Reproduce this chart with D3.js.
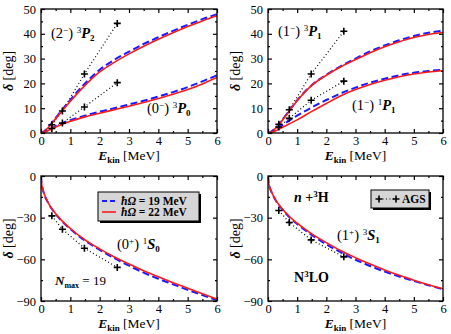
<!DOCTYPE html>
<html><head><meta charset="utf-8">
<script src="https://cdn.jsdelivr.net/npm/d3@7"></script>
<style>body{margin:0;background:#fff}svg{display:block}svg text{font-family:"Liberation Serif","Times New Roman","DejaVu Serif",serif}</style>
</head><body><svg id="c" width="451" height="334"></svg>
<script>
// ---- data ----
const energies = [0,0.02,0.05,0.1,0.25,0.5,0.75,1,1.5,2,2.5,3,3.5,4,4.5,5,5.5,6];
const p2_19 = [0,0.05,0.2,0.6,2.4,6.1,9.8,13.4,20.0,25.5,29.5,32.8,35.9,38.6,41.2,43.6,45.9,47.9];
const p2_22 = [0,0.05,0.2,0.6,2.2,5.8,9.3,12.8,19.2,24.6,28.5,31.9,35.0,37.8,40.4,42.9,45.2,47.3];
const p0_19 = [0,0.02,0.1,0.3,1.2,2.8,4.1,5.2,7.0,8.6,10.0,11.5,13.0,14.7,16.5,18.5,20.8,23.3];
const p0_22 = [0,0.02,0.1,0.3,1.0,2.4,3.6,4.7,6.5,8.0,9.4,10.8,12.3,13.9,15.6,17.5,19.8,22.4];
const p31_19 = [0,0.04,0.15,0.5,1.9,5.4,9.4,13.2,19.3,23.5,27.0,30.0,32.9,35.3,37.4,39.1,40.4,41.2];
const p31_22 = [0,0.04,0.15,0.5,1.8,5.2,9.2,13.0,19.2,23.3,26.7,29.6,32.4,34.8,36.8,38.5,39.7,40.5];
const p11_19 = [0,0.02,0.08,0.3,1.3,3.3,5.2,7.0,10.3,13.3,16.0,18.3,20.3,21.9,23.3,24.3,25.0,25.5];
const p11_22 = [0,0.01,0.05,0.2,0.8,2.3,3.8,5.3,8.7,11.9,15.0,17.5,19.6,21.3,22.7,23.8,24.6,25.1];
const s0_19 = [0,-5.5,-8.8,-12.5,-19.6,-27.4,-33.3,-38.2,-46.5,-53.2,-59.2,-64.6,-69.6,-74.0,-78.0,-82.0,-85.8,-89.4];
const s0_22 = [0,-5.5,-8.8,-12.5,-19.5,-27.2,-33.0,-37.8,-46.0,-52.5,-58.3,-63.4,-68.2,-72.6,-76.8,-80.8,-84.8,-88.6];
const s1_19 = [0,-4.5,-7.5,-10.5,-17.0,-24.3,-30.0,-34.6,-42.5,-49.2,-55.0,-60.3,-64.8,-68.8,-72.4,-75.5,-78.6,-81.5];
const s1_22 = [0,-4.5,-7.5,-10.5,-16.8,-24.0,-29.5,-34.0,-41.7,-48.0,-53.8,-58.8,-63.4,-67.6,-71.5,-75.0,-78.3,-81.2];
const agsE = [0.37,0.73,1.48,2.6];
const ags_p2 = [3.3,8.9,23.8,44.2];
const ags_p0 = [1.8,4.0,10.5,20.3];
const ags_p31 = [3.5,9.4,23.8,41.0];
const ags_p11 = [2.4,5.9,13.2,20.9];
const ags_s0 = [-28.7,-38.3,-52.0,-65.8];
const ags_s1 = [-24.8,-33.5,-46.0,-58.2];
const xTicks = [0,1,2,3,4,5,6];
const yTicksTop = [0,10,20,30,40,50];
const yTicksBot = [0,-30,-60,-90];
const legendLabels = ["ħΩ = 19 MeV","ħΩ = 22 MeV"];

// ---- drawing ----
const FONT = "'Liberation Serif','Times New Roman','DejaVu Serif',serif";
const svg = d3.select("#c").attr("font-family",FONT);
const panels = [
  {x0:41,x1:217,y0:9,y1:133,ydom:[0,50],yt:yTicksTop,ym:5,
   series:[[p2_19,p2_22,ags_p2],[p0_19,p0_22,ags_p0]]},
  {x0:268,x1:443,y0:9,y1:133,ydom:[0,50],yt:yTicksTop,ym:5,
   series:[[p31_19,p31_22,ags_p31],[p11_19,p11_22,ags_p11]]},
  {x0:41,x1:217,y0:176,y1:301,ydom:[-90,0],yt:yTicksBot,ym:15,
   series:[[s0_19,s0_22,ags_s0]]},
  {x0:268,x1:443,y0:176,y1:301,ydom:[-90,0],yt:yTicksBot,ym:15,
   series:[[s1_19,s1_22,ags_s1]]}
];

function plus(g, x, y){
  g.append("path").attr("d",`M${x-3.5},${y}H${x+3.5}M${x},${y-3.5}V${y+3.5}`)
    .attr("stroke","#000").attr("stroke-width",1.6);
}
function txt(x,y,size){
  return svg.append("text").attr("x",x).attr("y",y).attr("font-size",size).attr("font-family",FONT).attr("fill","#000");
}

panels.forEach((p,i)=>{
  const x = d3.scaleLinear().domain([0,6]).range([p.x0,p.x1]);
  const y = d3.scaleLinear().domain(p.ydom).range([p.y1,p.y0]);
  const g = svg.append("g");
  const clip = "clip"+i;
  g.append("clipPath").attr("id",clip).append("rect")
    .attr("x",p.x0).attr("y",p.y0).attr("width",p.x1-p.x0).attr("height",p.y1-p.y0);
  const line = d3.line().x((d,k)=>x(energies[k])).y(d=>y(d)).curve(d3.curveMonotoneX);
  const pl = g.append("g").attr("clip-path",`url(#${clip})`);
  p.series.forEach(s=>{
    pl.append("path").datum(s[2]).attr("fill","none").attr("stroke","#000").attr("stroke-width",1.2)
      .attr("stroke-dasharray","1,2.5")
      .attr("d", d3.line().x((d,k)=>x(agsE[k])).y(d=>y(d)));
    pl.append("path").datum(s[0]).attr("fill","none").attr("stroke","#1a1aff").attr("stroke-width",2)
      .attr("stroke-dasharray","7,3.5").attr("d",line);
    pl.append("path").datum(s[1]).attr("fill","none").attr("stroke","#ff1a1a").attr("stroke-width",1.6)
      .attr("d",line);
    s[2].forEach((v,k)=>plus(g,x(agsE[k]),y(v)));
  });
  g.append("rect").attr("x",p.x0).attr("y",p.y0).attr("width",p.x1-p.x0).attr("height",p.y1-p.y0)
    .attr("fill","none").attr("stroke","#000").attr("stroke-width",1.3);
  const minorX = d3.range(0.5,6,1);
  const minorY = d3.range(p.ydom[0]+p.ym, p.ydom[1], p.ym*2);
  g.append("g").attr("transform",`translate(0,${p.y1})`)
    .call(d3.axisBottom(x).tickValues(xTicks).tickSize(-4).tickPadding(3).tickFormat(d3.format("d")));
  g.append("g").attr("transform",`translate(0,${p.y0})`).call(d3.axisTop(x).tickValues(xTicks).tickSize(-4).tickFormat(""));
  g.append("g").attr("transform",`translate(0,${p.y1})`).call(d3.axisBottom(x).tickValues(minorX).tickSize(-2).tickFormat(""));
  g.append("g").attr("transform",`translate(0,${p.y0})`).call(d3.axisTop(x).tickValues(minorX).tickSize(-2).tickFormat(""));
  g.append("g").attr("transform",`translate(${p.x0},0)`)
    .call(d3.axisLeft(y).tickValues(p.yt).tickSize(-4).tickPadding(5).tickFormat(d3.format("d")));
  g.append("g").attr("transform",`translate(${p.x1},0)`).call(d3.axisRight(y).tickValues(p.yt).tickSize(-4).tickFormat(""));
  g.append("g").attr("transform",`translate(${p.x0},0)`).call(d3.axisLeft(y).tickValues(minorY).tickSize(-2).tickFormat(""));
  g.append("g").attr("transform",`translate(${p.x1},0)`).call(d3.axisRight(y).tickValues(minorY).tickSize(-2).tickFormat(""));
  g.selectAll(".domain").remove();
  g.selectAll("g").attr("font-family",FONT);
  g.selectAll(".tick line").attr("stroke","#000").attr("stroke-width",1.2);
  g.selectAll(".tick text").attr("font-family",FONT).attr("font-size",12.5).attr("fill","#000");
  const xt = txt((p.x0+p.x1)/2, p.y1+27, 13.5).attr("text-anchor","middle");
  xt.append("tspan").attr("font-weight","bold").attr("font-style","italic").text("E");
  xt.append("tspan").attr("font-weight","bold").attr("font-size",9).attr("dy",3).text("kin");
  xt.append("tspan").attr("dy",-3).text(" [MeV]");
  const yt = svg.append("text").attr("transform",`translate(${p.x0-28},${(p.y0+p.y1)/2}) rotate(-90)`)
    .attr("text-anchor","middle").attr("font-size",14).attr("font-family",FONT);
  yt.append("tspan").attr("font-weight","bold").attr("font-style","italic").text("δ");
  yt.append("tspan").text(" [deg]");
});

function wave(xp, yp, parity, spin, L, sub){
  const t = txt(xp, yp, 14.5);
  t.append("tspan").text("("+parity);
  t.append("tspan").attr("font-size",9).attr("dy",-5).text(spin);
  t.append("tspan").attr("dy",5).text(") ");
  t.append("tspan").attr("font-size",9).attr("dy",-5).text(sub[0]);
  t.append("tspan").attr("dy",5).attr("font-weight","bold").attr("font-style","italic").text(L);
  t.append("tspan").attr("font-size",9).attr("font-weight","bold").attr("dy",3).text(sub[1]);
}
wave(51,38,"2","−","P",["3","2"]);
wave(147,113,"0","−","P",["3","0"]);
wave(278,36,"1","−","P",["3","1"]);
wave(352,110,"1","−","P",["1","1"]);
wave(117,249,"0","+","S",["1","0"]);
wave(337,240,"1","+","S",["3","1"]);

{
  const t = txt(55,285,13).attr("font-weight","bold");
  t.append("tspan").attr("font-style","italic").text("N");
  t.append("tspan").attr("font-size",8).attr("dy",3).text("max");
  t.append("tspan").attr("dy",-3).attr("font-weight","normal").text(" = 19");
}
{
  const t = txt(294,202,14).attr("font-weight","bold");
  t.append("tspan").attr("font-style","italic").text("n");
  t.append("tspan").text(" +");
  t.append("tspan").attr("font-size",9).attr("dy",-5).text("3");
  t.append("tspan").attr("dy",5).text("H");
}
{
  const t = txt(294,282,14).attr("font-weight","bold");
  t.append("tspan").text("N");
  t.append("tspan").attr("font-size",9).attr("dy",-5).text("3");
  t.append("tspan").attr("dy",5).text("LO");
}

{
  const lx=98, ly=192, w=101, h=29;
  svg.append("rect").attr("x",lx+2).attr("y",ly+2).attr("width",w).attr("height",h).attr("fill","#000");
  svg.append("rect").attr("x",lx).attr("y",ly).attr("width",w).attr("height",h).attr("fill","#d6d6d6")
    .attr("stroke","#000").attr("stroke-width",1);
  const cols=["#1a1aff","#ff1a1a"];
  legendLabels.forEach((lab,k)=>{
    const yy = ly+9+k*11;
    svg.append("line").attr("x1",lx+4).attr("x2",lx+18).attr("y1",yy).attr("y2",yy)
      .attr("stroke",cols[k]).attr("stroke-width",k?1.6:2).attr("stroke-dasharray",k?null:"5,3");
    const t = txt(lx+23, yy+4, 11.5).attr("font-weight","bold");
    t.append("tspan").attr("font-style","italic").text(lab.slice(0,2));
    t.append("tspan").text(lab.slice(2));
  });
}
{
  const lx=371, ly=190, w=58, h=18;
  svg.append("rect").attr("x",lx+2).attr("y",ly+2).attr("width",w).attr("height",h).attr("fill","#000");
  svg.append("rect").attr("x",lx).attr("y",ly).attr("width",w).attr("height",h).attr("fill","#d6d6d6")
    .attr("stroke","#000").attr("stroke-width",1);
  const yy = ly+9;
  svg.append("line").attr("x1",lx+8).attr("x2",lx+25).attr("y1",yy).attr("y2",yy)
    .attr("stroke","#000").attr("stroke-width",1.2).attr("stroke-dasharray","1,2.5");
  plus(svg,lx+8,yy); plus(svg,lx+25,yy);
  txt(lx+31, yy+4, 11.5).attr("font-weight","bold").text("AGS");
}
</script></body></html>
